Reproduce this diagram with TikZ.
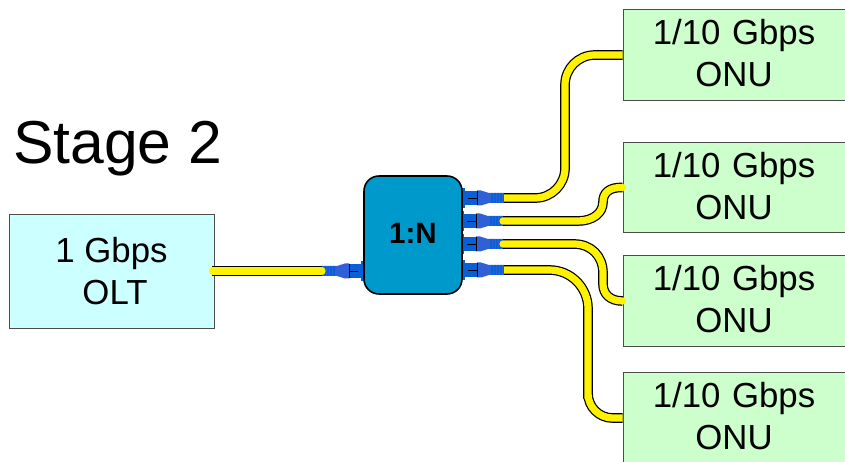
\documentclass[tikz,border=0pt]{standalone}
\usepackage{fontspec}
\setmainfont{Liberation Sans}
\usepackage{xcolor}
\usetikzlibrary{positioning}
\definecolor{oltfill}{HTML}{CCFFFF}
\definecolor{onufill}{HTML}{CCFFCC}
\definecolor{splitfill}{HTML}{0099CC}
\definecolor{plugdark}{HTML}{0860D8}
\definecolor{pluglight}{HTML}{3060D8}
\tikzset{
	box/.style={draw=black!70, line width=0.5pt, align=center, inner sep=0pt, font=\fontsize{19.8}{23.9}\selectfont},
	oltbox/.style={box, fill=oltfill, minimum width=4.1cm, minimum height=2.28cm},
	onubox/.style={box, fill=onufill, minimum width=4.44cm, minimum height=1.81cm, text width=4.44cm, text depth=26pt},
	splitbox/.style={draw=black, line width=0.9pt, fill=splitfill, rounded corners=8.5pt, minimum width=1.96cm, minimum height=2.36cm, inner sep=0pt, text depth=2pt, font=\fontsize{16.8}{20}\selectfont\bfseries},
	fibre/.style={draw=yellow, line width=4.1pt, line cap=round, preaction={draw=black, line width=5.5pt}},
	plug/.pic={
		\fill[plugdark] (0,-10) rectangle (3,10);
		\fill[plugdark] (0,-6.5) rectangle (15,7);
		\fill[pluglight] (15,-7.5) -- (19,-7.5) -- (27,-5) -- (42,-5) -- (42,5) -- (27,5) -- (19,7.5) -- (15,7.5) -- cycle;
		\draw[black, line width=0.6pt] (6,0.5) -- (15,0.5);
		\draw[black, line width=0.4pt] (15,-6.5) -- (15,7);
		\foreach \ribx in {30,33,...,42}
			\draw[plugdark, line width=0.7pt] (\ribx,-5) -- (\ribx,5);
		\coordinate (-tip) at (42,0);
	},
}
\begin{document}
\begin{tikzpicture}[x=0.02cm, y=-0.02cm]
	\useasboundingbox (0,0) rectangle (845,462);
	% Boxes
	\node[oltbox] (olt) at (111.5,271) {1 Gbps\\\hspace*{0.14cm}OLT};
	\node[onubox] (onu1) at (734,55) {1/10 Gbps\\ONU};
	\node[onubox] (onu2) at (734,187.5) {1/10 Gbps\\ONU};
	\node[onubox] (onu3) at (734,301) {1/10 Gbps\\ONU};
	\node[onubox] (onu4) at (734,418) {1/10 Gbps\\ONU};
	\node[font=\fontsize{34.5}{40}\selectfont] (stage) at (117.5,149) {Stage 2};
	% Plugs
	\pic[xscale=-1] (p0) at (364,271) {plug};
	\pic (p1) at (462,198) {plug};
	\pic (p2) at (461,221) {plug};
	\pic (p3) at (461,244) {plug};
	\pic (p4) at (462,270) {plug};
	\node[splitbox] (split) at (413,235) {1:N};
	% Fibres
	\draw[fibre] (olt.east) ++(-2,0) -- (p0-tip);
	\draw[fibre, line cap=butt, rounded corners=17pt] (p1-tip) -| (565,120) |- (onu1.west);
	\draw[fibre] (p2-tip) -- (578,221) .. controls (593,221) and (603,213) .. (603,202) .. controls (603,193) and (609,187) .. (onu2.west);
	\draw[fibre] (p3-tip) -- (574,244) .. controls (591,244) and (603,256) .. (603,273) -- (603,284) .. controls (603,294) and (610,301) .. (onu3.west);
	\draw[fibre, line cap=butt] (p4-tip) [rounded corners=22pt] -| (588,360) [rounded corners=14pt] |- (onu4.west);
\end{tikzpicture}
\end{document}
